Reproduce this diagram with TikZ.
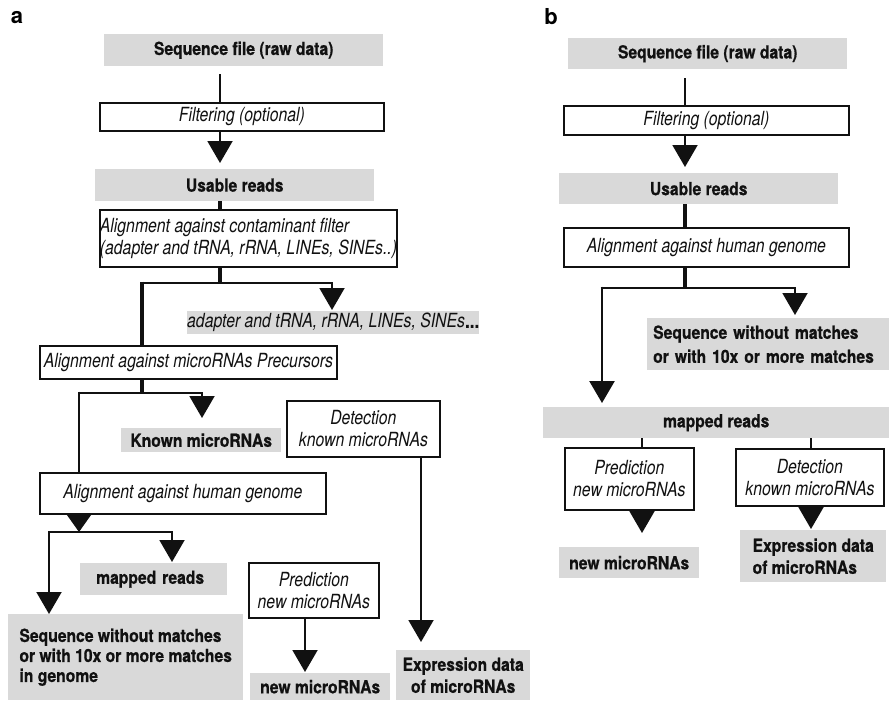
\documentclass[tikz,border=0pt]{standalone}
\usepackage{fontspec}
% Helvetica-like face, narrowed for the bold and italic cuts
\setmainfont{TeX Gyre Heros}[BoldFeatures={FakeStretch=0.87, FakeBold=0.7}, ItalicFeatures={FakeStretch=0.81}]
\newfontfamily\panelfont{TeX Gyre Heros}
\usetikzlibrary{arrows.meta,calc}
\definecolor{ink}{HTML}{111111}
\definecolor{shade}{HTML}{D9D9D9}

\tikzset{
  every node/.style={text=ink},
  shadebox/.style={fill=shade, inner sep=0pt, anchor=north west, font=\fontsize{18}{22}\selectfont\bfseries},
  stepbox/.style={draw=ink, fill=white, line width=1.8pt, inner sep=0pt, anchor=north west, font=\fontsize{19.5}{22}\selectfont\itshape},
  wire/.style={draw=ink, line width=2pt},
  branch/.style={draw=ink, line width=2.6pt},
  heavy/.style={draw=ink, line width=4pt},
  tip/.style={-{Triangle[width=25pt,length=22pt]}},
  shorttip/.style={-{Triangle[width=25pt,length=18pt]}},
  panel/.style={font=\panelfont\fontsize{22}{24}\selectfont\bfseries, text=black}
}

\begin{document}
\begin{tikzpicture}[x=1pt, y=-1pt]
\useasboundingbox (0,0) rectangle (889,701);

% ---------------- panel a ----------------
\node[panel] (la) at (17,18) {a};

\node[shadebox, minimum width=279pt, minimum height=32pt] (seqa) at (104,34) {Sequence file (raw data)};
\node[stepbox, minimum width=284pt, minimum height=28pt] (filta) at (99,102) {Filtering (optional)};
\node[shadebox, minimum width=279pt, minimum height=32pt] (usea) at (95,169) {Usable reads};
\node[stepbox, minimum width=297pt, minimum height=57pt, align=left] (conta) at (99,209)
  {Alignment against contaminant filter\\(adapter and tRNA, rRNA, LINEs, SINEs..)};
\node[shadebox, minimum width=292pt, minimum height=23pt, font=\fontsize{19.5}{22}\selectfont\itshape] (adapt) at (187,311)
  {adapter and tRNA, rRNA, LINEs, SINEs{\upshape\bfseries...}};
\node[stepbox, minimum width=297pt, minimum height=33pt] (preca) at (39,345) {Alignment against microRNAs Precursors};
\node[shadebox, minimum width=160pt, minimum height=24pt] (known) at (121,428) {Known microRNAs};
\node[stepbox, minimum width=153pt, minimum height=56pt, align=center] (deta) at (286,400) {Detection\\known microRNAs};
\node[stepbox, minimum width=286pt, minimum height=41pt] (huma) at (39,472) {Alignment against human genome};
\node[shadebox, minimum height=32pt, inner xsep=16pt, text width=115pt, align=left] (mapa) at (80,563) {mapped reads};
\node[shadebox, minimum width=235pt, minimum height=86pt, align=left, font=\fontsize{18}{20}\selectfont\bfseries] (seqwo) at (8,614)
  {Sequence without matches\\or with 10x or more matches\\in genome};
\node[stepbox, minimum width=130pt, minimum height=55pt, align=center] (preda) at (248,562) {Prediction\\new microRNAs};
\node[shadebox, minimum width=140pt, minimum height=27pt] (newa) at (250,673) {new microRNAs};
\node[shadebox, minimum width=134pt, minimum height=50pt, align=center] (expa) at (396,650) {Expression data\\of microRNAs};

% trunk and branch points
\coordinate (ax) at (220,0);
\coordinate (a1) at (220,283);
\coordinate (a1l) at (142,283);
\coordinate (a1r) at (332,283);
\coordinate (a2) at (142,393);
\coordinate (a2l) at (79,393);
\coordinate (a2r) at (202,393);
\coordinate (a3) at (79,532);
\coordinate (a3l) at (49,532);
\coordinate (a3r) at (172,532);
\coordinate (dx) at (421,0);
\coordinate (px) at (305,0);

\draw[wire] ($(ax |- seqa.south)+(0,8)$) -- (ax |- filta.north);
\draw[wire, tip, shorten >=6pt] (ax |- filta.south) -- (ax |- usea.north);
\draw[heavy] (ax |- usea.south) -- (ax |- conta.north);
\draw[heavy] (ax |- conta.south) -- ($(a1)+(0,1)$);
\draw[branch] ($(a1l)+(-2,0)$) -- ($(a1r)+(1,0)$);
\draw[heavy] ($(a1l)+(0,-1.3)$) -- (a1l |- preca.north);
\draw[wire, tip, shorten >=1pt] ($(a1r)+(0,-1)$) -- (a1r |- adapt.north);

\draw[heavy] (a2 |- preca.south) -- ($(a2)+(0,1)$);
\draw[branch] ($(a2l)+(-1,0)$) -- ($(a2r)+(1,0)$);
\draw[wire, tip, shorten >=10pt] ($(a2r)+(0,-1)$) -- (a2r |- known.north);
\draw[wire] ($(a2l)+(0,-1.3)$) -- (a2l |- huma.north);

\draw[wire, shorttip] (a3 |- huma.south) -- (a3);
\draw[wire] ($(a3l)+(-1,0)$) -- ($(a3r)+(1,0)$);
\draw[wire, tip] ($(a3l)+(0,-1)$) -- (a3l |- seqwo.north);
\draw[wire, tip, shorten >=1pt] ($(a3r)+(0,-1)$) -- (a3r |- mapa.north);

\draw[wire, tip, shorten >=8pt] (dx |- deta.south) -- (dx |- expa.north);
\draw[wire, tip, shorten >=1pt] (px |- preda.south) -- (px |- newa.north);

% ---------------- panel b ----------------
\node[panel] (lb) at (551,17) {b};

\node[shadebox, minimum width=279pt, minimum height=31pt] (seqb) at (568,38) {Sequence file (raw data)};
\node[stepbox, minimum width=285pt, minimum height=29pt] (filtb) at (563,105) {Filtering (optional)};
\node[shadebox, minimum width=279pt, minimum height=31pt] (useb) at (559,173) {Usable reads};
\node[stepbox, minimum width=285pt, minimum height=39pt] (humb) at (563,227) {Alignment against human genome};
\node[shadebox, minimum height=52pt, inner xsep=6pt, text width=230pt, align=left, font=\fontsize{18}{24}\selectfont\bfseries] (seqwob) at (647,318)
  {Sequence without matches\\or with 10x or more matches};
\node[shadebox, minimum width=346pt, minimum height=31pt] (mapb) at (543,407) {mapped reads};
\node[stepbox, minimum width=129pt, minimum height=62pt, align=center] (predb) at (564,447) {Prediction\\new microRNAs};
\node[stepbox, minimum width=148pt, minimum height=57pt, align=center] (detb) at (735,448) {Detection\\known microRNAs};
\node[shadebox, minimum width=140pt, minimum height=31pt] (newb) at (559,547) {new microRNAs};
\node[shadebox, minimum width=146pt, minimum height=52pt, align=left] (expb) at (740,530) {Expression data\\of microRNAs};

\coordinate (bx) at (685,0);
\coordinate (b1) at (685,288);
\coordinate (b1l) at (602,288);
\coordinate (b1r) at (795,288);
\coordinate (qx) at (642,0);
\coordinate (ex) at (811,0);

\draw[wire] ($(bx |- seqb.south)+(0,9)$) -- (bx |- filtb.north);
\draw[wire, tip, shorten >=6pt] (bx |- filtb.south) -- (bx |- useb.north);
\draw[heavy] (bx |- useb.south) -- (bx |- humb.north);
\draw[heavy] (bx |- humb.south) -- ($(b1)+(0,1)$);
\draw[branch] ($(b1l)+(-1.3,0)$) -- ($(b1r)+(1,0)$);
\draw[branch, tip, shorten >=4pt] ($(b1l)+(0,-1.3)$) -- (b1l |- mapb.north);
\draw[wire, tip, shorten >=3pt] ($(b1r)+(0,-1)$) -- (b1r |- seqwob.north);

\draw[wire] (qx |- mapb.south) -- (qx |- predb.north);
\draw[wire] (ex |- mapb.south) -- (ex |- detb.north);
\draw[wire, tip, shorten >=14pt] (qx |- predb.south) -- (qx |- newb.north);
\draw[wire, tip, shorten >=1pt] (ex |- detb.south) -- (ex |- expb.north);
\end{tikzpicture}
\end{document}
